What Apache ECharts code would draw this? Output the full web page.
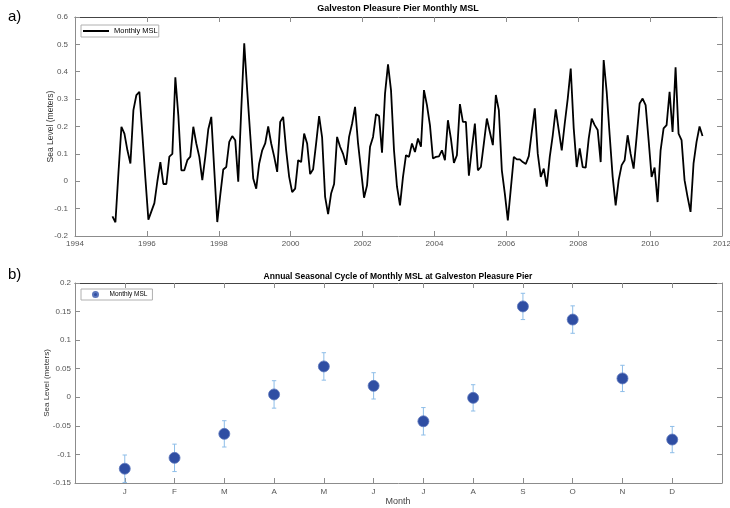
<!DOCTYPE html>
<html><head><meta charset="utf-8">
<script src="https://cdn.jsdelivr.net/npm/echarts@6/dist/echarts.min.js"></script>
<style>html,body{margin:0;padding:0;background:#fff}#c{width:730px;height:508px}</style>
</head><body><div id="c"></div>
<script>
// ---- Panel a: monthly mean sea level (m), Jan 1995 - Jun 2011 ----
const msl1995 = [-0.128,-0.150,0.030,0.199,0.174,0.113,0.065,0.260,0.315,0.327,0.170,0.010];
const msl1996 = [-0.140,-0.110,-0.080,0.000,0.070,-0.010,-0.010,0.090,0.100,0.380,0.240,0.040];
const msl1997 = [0.040,0.077,0.090,0.199,0.138,0.089,0.004,0.090,0.190,0.235,0.040,-0.149];
const msl1998 = [-0.050,0.043,0.052,0.144,0.165,0.150,-0.002,0.260,0.504,0.330,0.170,0.010];
const msl1999 = [-0.027,0.065,0.113,0.138,0.200,0.138,0.090,0.034,0.217,0.235,0.113,0.016];
const msl2000 = [-0.040,-0.027,0.077,0.070,0.174,0.138,0.026,0.044,0.138,0.238,0.160,-0.057];
const msl2001 = [-0.120,-0.045,-0.010,0.162,0.126,0.100,0.060,0.162,0.210,0.272,0.138,0.040];
const msl2002 = [-0.060,-0.015,0.126,0.162,0.245,0.238,0.104,0.320,0.427,0.333,0.113,-0.020];
const msl2003 = [-0.088,0.016,0.095,0.089,0.138,0.107,0.156,0.126,0.333,0.278,0.205,0.083];
const msl2004 = [0.089,0.091,0.113,0.077,0.223,0.156,0.067,0.095,0.282,0.217,0.217,0.020];
const msl2005 = [0.120,0.211,0.040,0.052,0.138,0.229,0.180,0.132,0.315,0.260,0.040,-0.045];
const msl2006 = [-0.143,-0.027,0.089,0.080,0.080,0.070,0.063,0.092,0.180,0.266,0.100,0.016];
const msl2007 = [0.046,-0.020,0.089,0.168,0.263,0.187,0.113,0.211,0.302,0.412,0.193,0.052];
const msl2008 = [0.120,0.052,0.050,0.156,0.229,0.205,0.187,0.070,0.443,0.327,0.168,0.016];
const msl2009 = [-0.088,0.004,0.059,0.077,0.168,0.100,0.046,0.162,0.284,0.302,0.278,0.150];
const msl2010 = [0.016,0.050,-0.076,0.113,0.193,0.205,0.327,0.180,0.416,0.174,0.150,0.004];
const msl2011 = [-0.057,-0.112,0.065,0.144,0.200,0.165];
const mslYears = [1995,1996,1997,1998,1999,2000,2001,2002,2003,2004,2005,2006,2007,2008,2009,2010,2011];
const mslByYear = [msl1995,msl1996,msl1997,msl1998,msl1999,msl2000,msl2001,msl2002,msl2003,msl2004,msl2005,msl2006,msl2007,msl2008,msl2009,msl2010,msl2011];
const yearTicks = [1994,1996,1998,2000,2002,2004,2006,2008,2010,2012];

// ---- Panel b: seasonal cycle ----
const monthLabels = ['J','F','M','A','M','J','J','A','S','O','N','D'];
const seasonalMean = [-0.125,-0.106,-0.064,0.005,0.054,0.020,-0.042,-0.001,0.159,0.136,0.033,-0.074];
const seasonalErr  = [0.024,0.024,0.023,0.024,0.024,0.023,0.024,0.023,0.023,0.024,0.023,0.023];

const lineData = [];
mslYears.forEach((y, yi) => {
  mslByYear[yi].forEach((v, m) => lineData.push([y + (m + 0.5) / 12, v]));
});
const scatterData = seasonalMean.map((v, i) => [i + 1, v]);
const errData = seasonalMean.map((v, i) => [i + 1, v - seasonalErr[i], v + seasonalErr[i]]);

const FONT = 'Liberation Sans, Arial, Helvetica, sans-serif';
const frameCol = '#8c8c8c';
const labelCol = '#555';
const tickCommon = { show: true, inside: true, length: 5, lineStyle: { color: frameCol, width: 1 } };

function fmt1(v) { return String(Math.round(v * 10) / 10); }
function fmt2(v) { return String(Math.round(v * 100) / 100); }

const chart = echarts.init(document.getElementById('c'), null, { renderer: 'canvas' });
chart.setOption({
  animation: false,
  backgroundColor: '#fff',
  textStyle: { fontFamily: FONT },
  grid: [
    { left: 75, top: 17, width: 647, height: 219, containLabel: false, outerBoundsMode: 'none' },
    { left: 75, top: 283, width: 647, height: 200, containLabel: false, outerBoundsMode: 'none' }
  ],
  xAxis: [
    { type: 'value', gridIndex: 0, position: 'bottom', min: 1994, max: 2012, interval: 2,
      axisLine: { show: true, onZero: false, lineStyle: { color: frameCol } },
      axisTick: tickCommon, splitLine: { show: false },
      axisLabel: { color: labelCol, fontSize: 8, margin: 4, fontFamily: FONT, formatter: v => String(v) } },
    { type: 'value', gridIndex: 0, position: 'top', min: 1994, max: 2012, interval: 2,
      axisLine: { show: true, onZero: false, lineStyle: { color: '#444' } },
      axisTick: tickCommon, splitLine: { show: false }, axisLabel: { show: false } },
    { type: 'value', gridIndex: 1, position: 'bottom', min: 0, max: 13, interval: 1,
      axisLine: { show: true, onZero: false, lineStyle: { color: frameCol } },
      axisTick: tickCommon, splitLine: { show: false },
      axisLabel: { color: labelCol, fontSize: 8, margin: 5, fontFamily: FONT,
        formatter: v => (v >= 1 && v <= 12) ? monthLabels[v - 1] : '' } },
    { type: 'value', gridIndex: 1, position: 'top', min: 0, max: 13, interval: 1,
      axisLine: { show: true, onZero: false, lineStyle: { color: '#444' } },
      axisTick: tickCommon, splitLine: { show: false }, axisLabel: { show: false } }
  ],
  yAxis: [
    { type: 'value', gridIndex: 0, position: 'left', min: -0.2, max: 0.6, interval: 0.1,
      name: 'Sea Level (meters)', nameLocation: 'middle', nameGap: 20, nameRotate: 90, nameMoveOverlap: false,
      nameTextStyle: { color: '#333', fontSize: 8.5, fontFamily: FONT },
      axisLine: { show: true, onZero: false, lineStyle: { color: frameCol } },
      axisTick: tickCommon, splitLine: { show: false },
      axisLabel: { color: labelCol, fontSize: 8, margin: 7, fontFamily: FONT, formatter: fmt1 } },
    { type: 'value', gridIndex: 0, position: 'right', min: -0.2, max: 0.6, interval: 0.1,
      axisLine: { show: true, onZero: false, lineStyle: { color: frameCol } },
      axisTick: tickCommon, splitLine: { show: false }, axisLabel: { show: false } },
    { type: 'value', gridIndex: 1, position: 'left', min: -0.15, max: 0.2, interval: 0.05,
      name: 'Sea Level (meters)', nameLocation: 'middle', nameGap: 24, nameRotate: 90, nameMoveOverlap: false,
      nameTextStyle: { color: '#333', fontSize: 8, fontFamily: FONT },
      axisLine: { show: true, onZero: false, lineStyle: { color: frameCol } },
      axisTick: tickCommon, splitLine: { show: false },
      axisLabel: { color: labelCol, fontSize: 8, margin: 4, fontFamily: FONT, formatter: fmt2 } },
    { type: 'value', gridIndex: 1, position: 'right', min: -0.15, max: 0.2, interval: 0.05,
      axisLine: { show: true, onZero: false, lineStyle: { color: frameCol } },
      axisTick: tickCommon, splitLine: { show: false }, axisLabel: { show: false } }
  ],
  legend: [
    { left: 81, top: 25, orient: 'horizontal', selectedMode: false,
      data: [{ name: 'lineA', icon: 'rect' }], itemWidth: 26, itemHeight: 2,
      formatter: () => 'Monthly MSL',
      textStyle: { fontSize: 7.5, color: '#000', fontFamily: FONT },
      borderColor: '#b0b0b0', borderWidth: 1, borderRadius: 0, backgroundColor: '#fff',
      padding: [2, 1, 2, 2] },
    { left: 81, top: 289, orient: 'horizontal', selectedMode: false,
      data: [{ name: 'dotsB', icon: 'circle' }], itemWidth: 18, itemHeight: 5,
      formatter: () => 'Monthly MSL',
      textStyle: { fontSize: 6.5, color: '#000', fontFamily: FONT },
      borderColor: '#b0b0b0', borderWidth: 1, borderRadius: 0, backgroundColor: '#fff',
      padding: [2, 5, 2, 11] }
  ],
  graphic: [
    { type: 'text', left: 8, top: 9, style: { text: 'a)', font: '15px ' + FONT, fill: '#000' } },
    { type: 'text', left: 8, top: 267, style: { text: 'b)', font: '15px ' + FONT, fill: '#000' } },
    { type: 'text', x: 398, y: 8.5, style: { text: 'Galveston Pleasure Pier Monthly MSL', font: 'bold 9px ' + FONT, fill: '#000', align: 'center', verticalAlign: 'middle', textAlign: 'center', textVerticalAlign: 'middle' } },
    { type: 'text', x: 398, y: 276.5, style: { text: 'Annual Seasonal Cycle of Monthly MSL at Galveston Pleasure Pier', font: 'bold 8.5px ' + FONT, fill: '#000', align: 'center', verticalAlign: 'middle', textAlign: 'center', textVerticalAlign: 'middle' } },
    { type: 'text', x: 398, y: 502, style: { text: 'Month', font: '9px ' + FONT, fill: '#444', align: 'center', verticalAlign: 'middle', textAlign: 'center', textVerticalAlign: 'middle' } }
  ],
  series: [
    { name: 'lineA', type: 'line', xAxisIndex: 0, yAxisIndex: 0, data: lineData,
      showSymbol: false, symbol: 'none', lineStyle: { color: '#000', width: 1.8 }, itemStyle: { color: '#000' } },
    { name: 'errB', type: 'custom', xAxisIndex: 2, yAxisIndex: 2, data: errData, z: 2,
      encode: { x: 0, y: [1, 2] },
      renderItem: function (params, api) {
        const x = api.value(0);
        const lo = api.coord([x, api.value(1)]);
        const hi = api.coord([x, api.value(2)]);
        const cw = 2.2;
        const st = { stroke: '#8dbde8', lineWidth: 1 };
        return { type: 'group', children: [
          { type: 'line', shape: { x1: lo[0], y1: lo[1], x2: hi[0], y2: hi[1] }, style: st },
          { type: 'line', shape: { x1: hi[0] - cw, y1: hi[1], x2: hi[0] + cw, y2: hi[1] }, style: st },
          { type: 'line', shape: { x1: lo[0] - cw, y1: lo[1], x2: lo[0] + cw, y2: lo[1] }, style: st }
        ] };
      } },
    { name: 'dotsB', type: 'scatter', xAxisIndex: 2, yAxisIndex: 2, data: scatterData, z: 3,
      symbol: 'circle', symbolSize: 11,
      itemStyle: { color: '#2f4ea3', opacity: 1, borderColor: '#5c76bb', borderWidth: 0.8 } }
  ]
});
</script>
</body></html>
